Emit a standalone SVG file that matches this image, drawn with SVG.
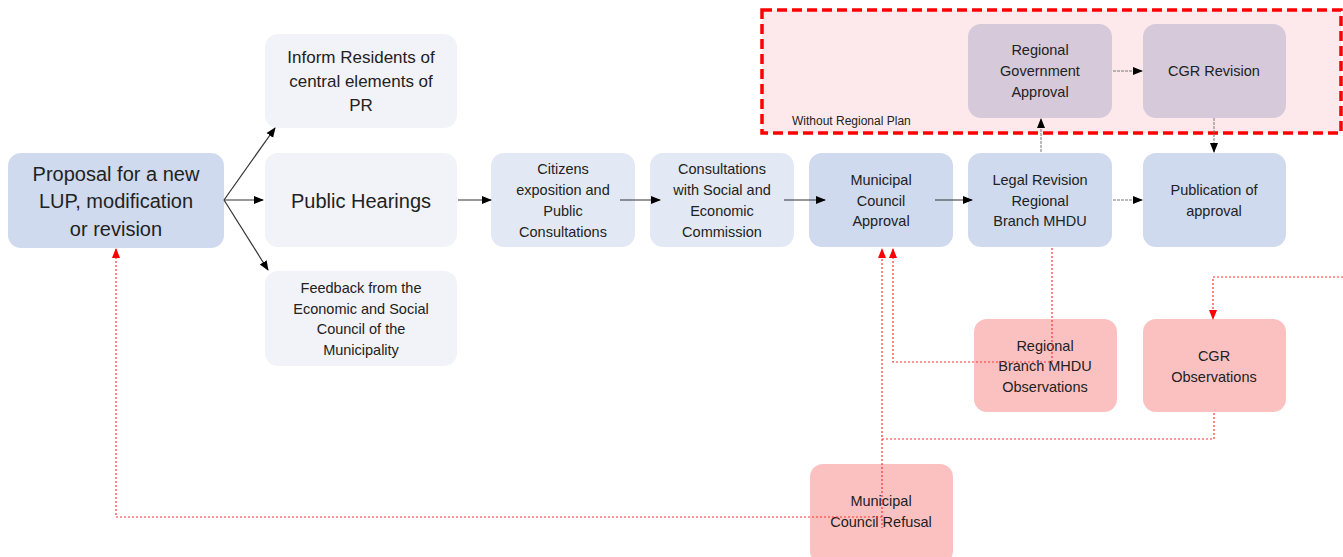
<svg xmlns="http://www.w3.org/2000/svg" width="1343" height="557" viewBox="0 0 1343 557">
<style>
.t{font-family:"Liberation Sans",Arial,sans-serif;fill:#222;text-anchor:middle}
.s{font-size:14.5px}
.blue{fill:#cfdaee}
.lblue{fill:#e3e9f4}
.grey{fill:#f2f3f8}
.purp{fill:#d5c9da}
.pink{fill:#fbc1c1}
.blk{stroke:#333;stroke-width:1.2;fill:none;marker-end:url(#ab)}
.gd{stroke:#777;stroke-width:1;stroke-dasharray:3 1;fill:none;marker-end:url(#ab)}
.rd{stroke:#f33;stroke-width:1.2;stroke-dasharray:2 2;fill:none}
.rda{marker-end:url(#ar)}
</style>
<defs>
<marker id="ab" viewBox="0 0 10 10" refX="9" refY="5" markerWidth="10" markerHeight="10" markerUnits="userSpaceOnUse" orient="auto"><path d="M0,1 L10,5 L0,9 z" fill="#000"/></marker>
<marker id="ar" viewBox="0 0 10 10" refX="9" refY="5" markerWidth="10" markerHeight="10" markerUnits="userSpaceOnUse" orient="auto"><path d="M0,1 L10,5 L0,9 z" fill="#f00"/></marker>
</defs>
<rect width="1343" height="557" fill="#fff"/>

<g id="region">
<rect x="762" y="10" width="579" height="123" fill="#fde9eb" stroke="#f00" stroke-width="3.5" stroke-dasharray="10 5"/>
<text x="792" y="125" class="t" style="font-size:12px;text-anchor:start">Without Regional Plan</text>
</g>

<g id="n-proposal"><rect x="8" y="153" width="216" height="95" rx="13" class="blue"/>
<text class="t" style="font-size:20px"><tspan x="116" y="181">Proposal for a new</tspan><tspan x="116" y="208">LUP, modification</tspan><tspan x="116" y="236">or revision</tspan></text></g>

<g id="n-inform"><rect x="265" y="34" width="192" height="94" rx="13" class="grey"/>
<text class="t" style="font-size:17px"><tspan x="361" y="63">Inform Residents of</tspan><tspan x="361" y="87">central elements of</tspan><tspan x="361" y="111">PR</tspan></text></g>

<g id="n-hearings"><rect x="265" y="153" width="192" height="94" rx="13" class="grey"/>
<text class="t" style="font-size:20px"><tspan x="361" y="208">Public Hearings</tspan></text></g>

<g id="n-feedback"><rect x="265" y="271" width="192" height="95" rx="13" class="grey"/>
<text class="t s"><tspan x="361" y="293">Feedback from the</tspan><tspan x="361" y="314">Economic and Social</tspan><tspan x="361" y="334">Council of the</tspan><tspan x="361" y="355">Municipality</tspan></text></g>

<g id="n-citizens"><rect x="491" y="153" width="144" height="94" rx="13" class="lblue"/>
<text class="t s"><tspan x="563" y="174">Citizens</tspan><tspan x="563" y="195">exposition and</tspan><tspan x="563" y="216">Public</tspan><tspan x="563" y="237">Consultations</tspan></text></g>

<g id="n-consult"><rect x="650" y="153" width="144" height="94" rx="13" class="lblue"/>
<text class="t s"><tspan x="722" y="174">Consultations</tspan><tspan x="722" y="195">with Social and</tspan><tspan x="722" y="216">Economic</tspan><tspan x="722" y="237">Commission</tspan></text></g>

<g id="n-mca"><rect x="809" y="153" width="144" height="94" rx="13" class="blue"/>
<text class="t s"><tspan x="881" y="185">Municipal</tspan><tspan x="881" y="206">Council</tspan><tspan x="881" y="226">Approval</tspan></text></g>

<g id="n-legal"><rect x="968" y="153" width="144" height="94" rx="13" class="blue"/>
<text class="t s"><tspan x="1040" y="185">Legal Revision</tspan><tspan x="1040" y="206">Regional</tspan><tspan x="1040" y="226">Branch MHDU</tspan></text></g>

<g id="n-publication"><rect x="1143" y="153" width="143" height="94" rx="13" class="blue"/>
<text class="t s"><tspan x="1214" y="195">Publication of</tspan><tspan x="1214" y="216">approval</tspan></text></g>

<g id="n-regapproval"><rect x="968" y="24" width="144" height="94" rx="13" class="purp"/>
<text class="t s"><tspan x="1040" y="55">Regional</tspan><tspan x="1040" y="76">Government</tspan><tspan x="1040" y="97">Approval</tspan></text></g>

<g id="n-cgrrev"><rect x="1143" y="24" width="143" height="94" rx="13" class="purp"/>
<text class="t s"><tspan x="1214" y="76">CGR Revision</tspan></text></g>

<g id="n-mhduobs"><rect x="974" y="319" width="143" height="93" rx="13" class="pink"/>
<text class="t s"><tspan x="1045" y="351">Regional</tspan><tspan x="1045" y="371">Branch MHDU</tspan><tspan x="1045" y="392">Observations</tspan></text></g>

<g id="n-cgrobs"><rect x="1143" y="319" width="143" height="93" rx="13" class="pink"/>
<text class="t s"><tspan x="1214" y="361">CGR</tspan><tspan x="1214" y="382">Observations</tspan></text></g>

<g id="n-refusal"><rect x="810" y="464" width="143" height="100" rx="13" class="pink"/>
<text class="t s"><tspan x="881" y="506">Municipal</tspan><tspan x="881" y="527">Council Refusal</tspan></text></g>

<g id="connectors">
<path class="blk" d="M224,200 L275,128"/>
<path class="blk" d="M224,200 L263,200"/>
<path class="blk" d="M224,200 L268,270"/>
<path class="blk" d="M458,200 L491,200"/>
<path class="blk" d="M620,200 L660,200"/>
<path class="blk" d="M784,200 L825,200"/>
<path class="blk" d="M935,200 L972,200"/>
<path class="gd" d="M1113,200 L1142,200"/>
<path class="gd" d="M1041,152 L1041,119"/>
<path class="gd" d="M1113,71 L1142,71"/>
<path class="gd" d="M1214,118 L1214,152"/>
<path class="rd rda" d="M1052,248 L1052,362 L893,362 L893,249"/>
<path class="rd rda" d="M1214,413 L1214,439 L882,439 L882,249"/>
<path class="rd" d="M882,439 L882,528"/>
<path class="rd rda" d="M1343,277 L1213,277 L1213,319"/>
<path class="rd rda" d="M882,517 L116,517 L116,249"/>
</g>
</svg>
